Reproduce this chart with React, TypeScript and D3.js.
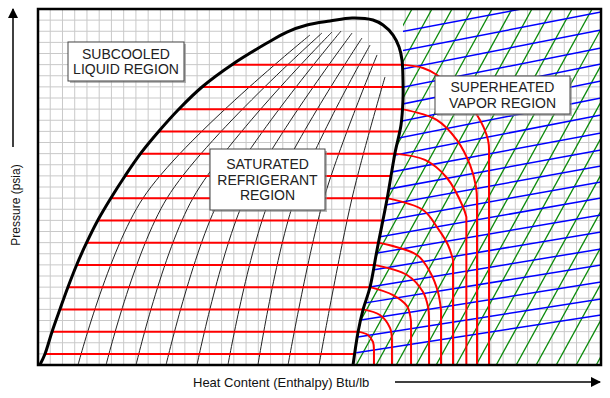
import React from 'react';
import * as d3 from 'd3';

// Pressure-enthalpy chart, values in chart units (enthalpy 0..46, pressure 0..32)

// saturation dome, liquid side up over the top and down the vapor side
const domeH = [0.15, 0.57, 1.14, 1.8, 2.45, 3.19, 4.0, 4.9, 5.96, 7.11, 8.42, 9.89, 11.52, 13.4, 15.93, 18.71, 20.34, 21.98, 23.86, 25.66, 27.37, 28.19, 29.01, 29.5, 29.74, 29.82, 29.82, 29.66, 29.17, 28.52, 27.7, 27.13, 26.55, 26.15, 25.74];
const domeP = [0, 0.99, 2.97, 5.03, 7.01, 9.08, 11.06, 13.03, 15.01, 16.99, 19.06, 21.03, 23.01, 24.99, 27.06, 28.94, 29.93, 30.56, 30.92, 31.19, 31.01, 30.56, 29.66, 28.58, 27.42, 25.62, 23.82, 21.57, 19.06, 14.92, 10.34, 7.01, 4.94, 2.97, 0];

// constant temperature lines across the dome
const isobarP = [1, 3, 5, 7, 9, 11, 13, 15, 17, 19, 21, 23, 25, 27];
const liquidH = [0.57, 1.14, 1.8, 2.45, 3.19, 4.0, 4.9, 5.96, 7.11, 8.42, 9.89, 11.52, 13.4, 15.93];
const vaporH = [25.88, 26.15, 26.55, 27.13, 27.47, 27.82, 28.17, 28.52, 28.84, 29.17, 29.58, 29.74, 29.82, 29.74];

// quality lines inside the dome
const qualityBottomH = [3.27, 5.56, 8.01, 10.46, 12.99, 15.52, 17.97, 20.43, 22.96];
const qualityMidH = [8.58, 10.54, 12.66, 14.87, 16.91, 18.96, 21.0, 23.37, 25.66];
const qualityTopH = [22.22, 23.2, 24.02, 24.76, 25.66, 26.47, 27.13, 27.7, 28.35];
const qualityTopP = [29.66, 29.84, 29.93, 30.02, 29.84, 29.39, 28.76, 27.87, 25.89];

// temperature lines through the superheated region (then straight down)
const superheat: [number, number][][] = [
  [[29.74, 27], [31.46, 26.7], [32.6, 26.07], [34.32, 24.45], [35.87, 22.47], [36.77, 20.22], [36.85, 18.88]],
  [[29.74, 23], [32.6, 22.02], [34.23, 20.22], [35.3, 17.98], [35.79, 16.0], [35.87, 14.83]],
  [[29.17, 19], [31.62, 18.43], [33.42, 16.81], [34.73, 14.2], [35.0, 13.3]],
  [[28.52, 15], [31.46, 13.93], [32.6, 12.4], [33.5, 10.79], [33.91, 9.44]],
  [[27.82, 11], [30.97, 9.89], [32.03, 8.36], [32.68, 6.56], [32.93, 4.94]],
  [[27.47, 9], [30.15, 8.09], [31.46, 6.56], [31.87, 5.21], [31.95, 4.22]],
  [[27.13, 7], [29.01, 6.29], [30.15, 5.3], [30.48, 3.87]],
  [[26.55, 5], [27.94, 4.49], [28.76, 3.33], [28.92, 2.25]],
  [[26.15, 3], [26.96, 2.7], [27.37, 2.07], [27.45, 1.35]],
];

// constant entropy lines (green), h at bottom and top of the chart
const greenBottomH = [14.56, 16.19, 17.83, 19.46, 21.1, 22.73, 24.36, 26.0, 27.63, 29.27, 30.9, 32.53, 34.17, 35.8, 37.44, 39.07, 40.7, 42.34, 43.97, 45.61, 47.24];
const greenTopH = [30.56, 32.19, 33.83, 35.46, 37.1, 38.73, 40.36, 42.0, 43.63, 45.27, 46.9, 48.53, 50.17, 51.8, 53.44, 55.07, 56.7, 58.34, 59.97, 61.61, 63.24];

// constant volume lines (blue), pressure at h=26 and at h=46
const blueLeftP = [1.11, 2.5, 3.97, 5.45, 6.8, 8.29, 9.75, 11.14, 12.52, 13.9, 15.28, 16.76, 18.19, 19.65, 21.11, 22.62, 24.15, 25.79, 27.46, 29.2];
const blueRightP = [4.49, 5.93, 7.46, 8.99, 10.43, 11.96, 13.48, 15.01, 16.45, 17.89, 19.33, 20.85, 22.47, 24.0, 25.53, 27.06, 28.49, 30.11, 31.73, 33.35];

const labels = [
  { lines: ['SUBCOOLED', 'LIQUID REGION'], box: [68, 42, 116, 39] },
  { lines: ['SATURATED', 'REFRIGERANT', 'REGION'], box: [210, 149, 115, 61] },
  { lines: ['SUPERHEATED', 'VAPOR REGION'], box: [435, 76, 135, 38] },
];

const FONT = "'Liberation Sans', Arial, Helvetica, sans-serif";

export default function App() {
  const x = d3.scaleLinear().domain([0, 46]).range([38, 601]);
  const y = d3.scaleLinear().domain([0, 32]).range([365, 9]);

  const line = d3.line<[number, number]>().x(d => x(d[0])).y(d => y(d[1]));
  const smooth = d3.line<[number, number]>().x(d => x(d[0])).y(d => y(d[1])).curve(d3.curveCatmullRom.alpha(0.5));

  const dome: [number, number][] = domeH.map((h, i) => [h, domeP[i]]);
  const maxH = d3.max(domeH) as number;
  const iMax = domeH.indexOf(maxH);
  const clipPts: [number, number][] = [[maxH, 32], ...dome.slice(iMax), [46, 0], [46, 32]];

  const gridX = d3.range(0, 47);
  const gridY = d3.range(0, 33);

  return (
    <svg width={610} height={398} style={{ position: 'absolute', left: 0, top: 0, background: '#fff' }}>
      <defs>
        <clipPath id="sh">
          <path d={line(clipPts) + 'Z'} />
        </clipPath>
        <clipPath id="frame">
          <rect x={x(0)} y={y(32)} width={x(46) - x(0)} height={y(0) - y(32)} />
        </clipPath>
        <marker id="arrow" viewBox="0 0 10 10" refX="9" refY="5" markerWidth="7" markerHeight="7" orient="auto">
          <path d="M0,0 L10,5 L0,10 Z" fill="#000" />
        </marker>
      </defs>

      {/* grid */}
      <g stroke="#c9c9c9" strokeWidth={1}>
        {gridX.map(g => <line key={'gx' + g} x1={x(g)} x2={x(g)} y1={y(0)} y2={y(32)} />)}
        {gridY.map(g => <line key={'gy' + g} x1={x(0)} x2={x(46)} y1={y(g)} y2={y(g)} />)}
      </g>

      {/* superheated region lines */}
      <g clipPath="url(#frame)">
        <g clipPath="url(#sh)">
          {greenBottomH.map((h, i) => (
            <line key={'g' + i} x1={x(h)} y1={y(0)} x2={x(greenTopH[i])} y2={y(32)} stroke="#0a8a0a" strokeWidth={1.3} />
          ))}
          {blueLeftP.map((p, i) => (
            <line key={'b' + i} x1={x(26)} y1={y(p)} x2={x(46)} y2={y(blueRightP[i])} stroke="#0000ff" strokeWidth={1.5} />
          ))}
        </g>
      </g>

      {/* quality lines */}
      <g fill="none" stroke="#222" strokeWidth={1}>
        {qualityBottomH.map((h, i) => (
          <path key={'q' + i} d={smooth([[h, 0], [qualityMidH[i], 15], [qualityTopH[i], qualityTopP[i]]]) as string} />
        ))}
      </g>

      {/* isotherms */}
      <g fill="none" stroke="#ff0000" strokeWidth={2}>
        {isobarP.map((p, i) => (
          <line key={'r' + i} x1={x(liquidH[i])} x2={x(vaporH[i])} y1={y(p)} y2={y(p)} />
        ))}
        {superheat.map((pts, i) => {
          const last = pts[pts.length - 1];
          return <path key={'s' + i} d={smooth(pts) + `L${x(last[0])},${y(0)}`} />;
        })}
      </g>

      {/* dome */}
      <path d={smooth(dome) as string} fill="none" stroke="#000" strokeWidth={3} />

      {/* frame */}
      <rect x={x(0)} y={y(32)} width={x(46) - x(0)} height={y(0) - y(32)} fill="none" stroke="#000" strokeWidth={2.5} />

      {/* region labels */}
      {labels.map((l, i) => {
        const [bx, by, bw, bh] = l.box;
        const cx = bx + bw / 2;
        const lh = 15.5;
        const y0 = by + bh / 2 - ((l.lines.length - 1) * lh) / 2 + 5;
        return (
          <g key={'l' + i}>
            <rect x={bx + 2} y={by + 2} width={bw} height={bh} fill="#888" opacity={0.6} />
            <rect x={bx} y={by} width={bw} height={bh} fill="#fff" stroke="#444" strokeWidth={1} />
            <text textAnchor="middle" fontFamily={FONT} fontSize={14} fill="#222">
              {l.lines.map((t, j) => (
                <tspan key={j} x={cx} y={y0 + j * lh}>{t}</tspan>
              ))}
            </text>
          </g>
        );
      })}

      {/* axis titles with arrows */}
      <text x={193} y={387} fontFamily={FONT} fontSize={13} fill="#111">Heat Content (Enthalpy) Btu/lb</text>
      <line x1={395} x2={600} y1={382} y2={382} stroke="#000" strokeWidth={1.5} markerEnd="url(#arrow)" />
      <text transform="translate(20,205) rotate(-90)" textAnchor="middle" fontFamily={FONT} fontSize={12} fill="#111">Pressure (psia)</text>
      <line x1={13} x2={13} y1={147} y2={9} stroke="#000" strokeWidth={1.5} markerEnd="url(#arrow)" />
    </svg>
  );
}
